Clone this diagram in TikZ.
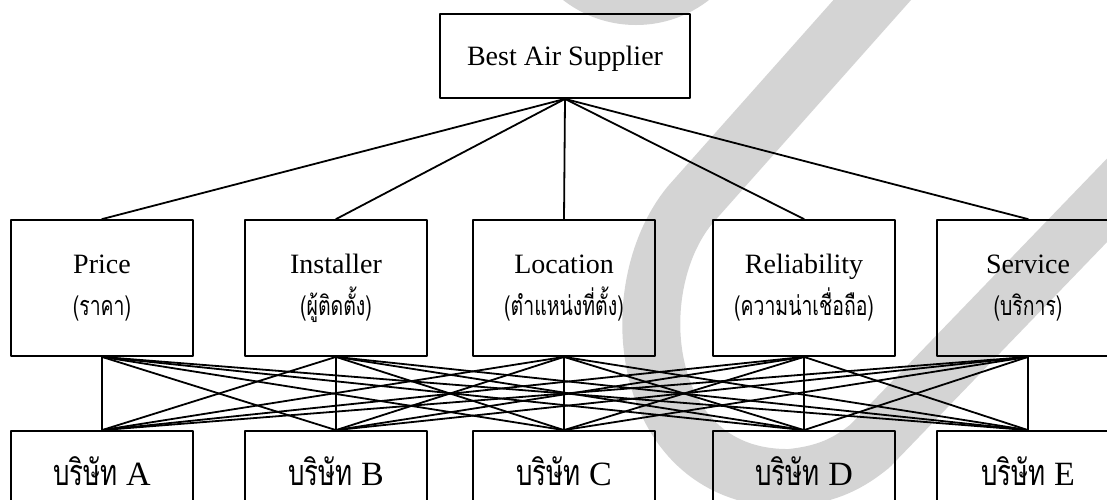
\documentclass[tikz,border=0pt]{standalone}
\usepackage{fontspec}
\setmainfont{Liberation Serif}
\newfontfamily\thaifont[Script=Thai,FakeStretch=0.72]{Loma}
\definecolor{markgray}{gray}{0.83}
\begin{document}
\begin{tikzpicture}[x=1pt,y=-1pt, line join=round, line cap=round,
    box/.style={draw, line width=1.8pt, minimum width=182pt, inner sep=0pt},
    link/.style={line width=1.8pt},
    en/.style={anchor=base, inner sep=0pt, font=\fontsize{28}{32}\selectfont},
    th/.style={anchor=base, inner sep=0pt, font=\thaifont\fontsize{27}{30}\selectfont}]
    \clip (0,0) rectangle (1107,499);
    % grey mark behind everything
    \fill[markgray] (636,-94) circle (119);
    \draw[markgray, line width=58pt, line cap=butt]
        (890,-20) -- (690,205) .. controls (620,290) and (640,480) .. (790,478)
        .. controls (830,474) and (850,462) .. (870,446) -- (1170,135);
    % goal
    \node[box, minimum width=250pt, minimum height=84pt] (goal) at (565,56) {};
    \node[en] (goal-txt) at (565,65) {Best Air Supplier};
    % criteria, english name over thai name
    \foreach \n/\x/\en/\th in {price/102/Price/ราคา, inst/336/Installer/ผู้ติดตั้ง,
        loc/564/Location/ตำแหน่งที่ตั้ง, rel/804/Reliability/ความน่าเชื่อถือ, serv/1028/Service/บริการ} {
        \node[box, minimum height=136pt] (\n) at (\x,288) {};
        \node[en] (\n-en) at (\x,273) {\en};
        \node[th] (\n-th) at (\x,315) {(\th)};
    }
    % alternatives
    \foreach \n/\x in {A/102, B/336, C/564, D/804, E/1028} {
        \node[box, minimum height=136pt] (co\n) at (\x,499) {};
        \node[en, font=\fontsize{34}{38}\selectfont] (co\n-txt) at (\x,485)
            {{\thaifont\fontsize{36}{40}\selectfont บริษัท} \n};
    }
    \foreach \c in {price,inst,loc,rel,serv} {
        \draw[link] (goal.south) -- (\c.north);
        \foreach \b in {A,B,C,D,E}
            \draw[link] (\c.south) -- (co\b.north);
    }
\end{tikzpicture}
\end{document}
